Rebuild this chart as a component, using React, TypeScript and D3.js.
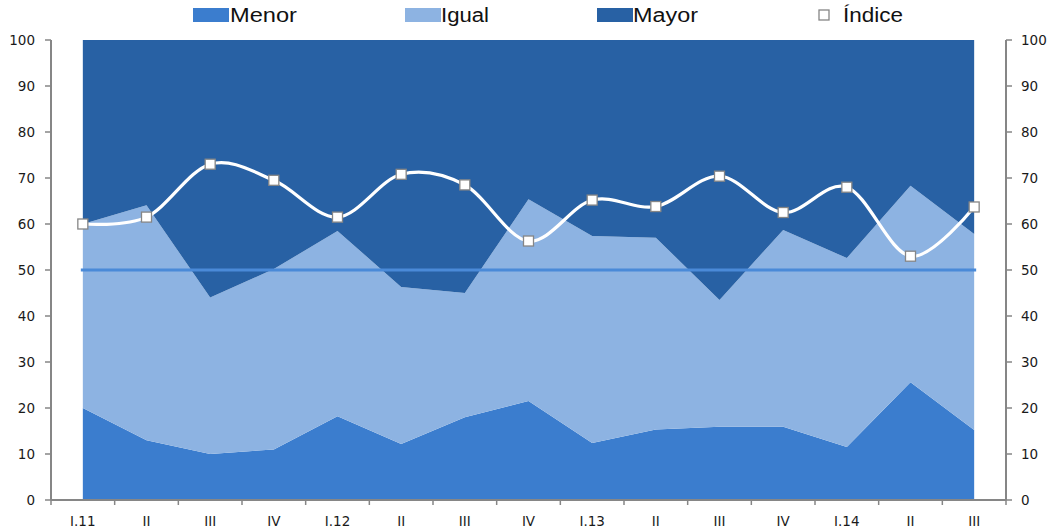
import React from "react";
import * as d3 from "d3";

const categories = ["I.11", "II", "III", "IV", "I.12", "II", "III", "IV", "I.13", "II", "III", "IV", "I.14", "II", "III"];
const menor = [20, 13, 10, 11, 18.2, 12.2, 18, 21.5, 12.4, 15.3, 15.9, 15.9, 11.5, 25.6, 15.2];
const igual = [40, 51.1, 34, 39.2, 40.3, 34.1, 27, 43.9, 45, 41.7, 27.6, 42.8, 41.1, 42.7, 42.6];
const mayor = menor.map((m, i) => 100 - m - igual[i]);
const indice = [60, 61.5, 73, 69.5, 61.5, 70.8, 68.5, 56.3, 65.2, 63.8, 70.4, 62.5, 68, 53, 63.7];
const yTicks = [0, 10, 20, 30, 40, 50, 60, 70, 80, 90, 100];
const refValue = 50;

const W = 1053, H = 528;
const left = 51, right = 1006, top = 40, bottom = 500;

const colors = { menor: "#3B7DCE", igual: "#8DB3E2", mayor: "#2861A4", ref: "#4A8AD8", axis: "#868686" };

export default function App() {
  const x = d3.scaleBand<number>().domain(categories.map((_, i) => i)).range([left, right]).padding(0);
  const cx = (i: number) => (x(i) as number) + x.bandwidth() / 2;
  const y = d3.scaleLinear().domain([0, 100]).range([bottom, top]);

  const rows = categories.map((_, i) => ({ i, menor: menor[i], igual: igual[i], mayor: mayor[i] }));
  const stack = d3.stack<any>().keys(["menor", "igual", "mayor"])(rows);
  const area = d3.area<any>().x((d: any) => cx(d.data.i)).y0((d: any) => y(d[0])).y1((d: any) => y(d[1]));
  const line = d3.line<number>().x((_, i) => cx(i)).y((d) => y(d)).curve(d3.curveCardinal.tension(0));

  const fill: Record<string, string> = { menor: colors.menor, igual: colors.igual, mayor: colors.mayor };
  const boundaries = d3.range(categories.length + 1).map((k) => left + k * x.bandwidth());
  const tickFont = "DejaVu Sans, Verdana, sans-serif";
  const legendFont = "Liberation Sans Narrow, Liberation Sans, Arial, sans-serif";

  const legend = [
    { key: "menor", label: "Menor", sx: 193, tx: 230, tl: 67 },
    { key: "igual", label: "Igual", sx: 405, tx: 441, tl: 48 },
    { key: "mayor", label: "Mayor", sx: 597, tx: 633, tl: 65 },
  ];

  return (
    <div style={{ position: "absolute", left: 0, top: 0, width: W, height: H, background: "#fff" }}>
      <svg width={W} height={H} style={{ display: "block" }}>
        <rect x={0} y={0} width={W} height={H} fill="#fff" />
        {stack.map((s) => (
          <path key={s.key} d={area(s as any) || ""} fill={fill[s.key]} />
        ))}
        <line x1={cx(0) - 2} x2={cx(categories.length - 1) + 2} y1={y(refValue)} y2={y(refValue)} stroke={colors.ref} strokeWidth={3} />
        <path d={line(indice) || ""} fill="none" stroke="#fff" strokeWidth={3.2} />
        {indice.map((v, i) => (
          <rect key={i} x={cx(i) - 5} y={y(v) - 5} width={10} height={10} fill="#fff" stroke={colors.axis} strokeWidth={1.3} />
        ))}
        {/* left axis */}
        <line x1={left} x2={left} y1={top} y2={bottom} stroke={colors.axis} strokeWidth={2} />
        {yTicks.map((t) => (
          <g key={"l" + t}>
            <line x1={left - 6} x2={left} y1={y(t)} y2={y(t)} stroke={colors.axis} strokeWidth={1.5} />
            <text x={35} y={y(t)} dy="0.35em" textAnchor="end" fontFamily={tickFont} fontSize={13.5} fill="#1a1a1a">{t}</text>
          </g>
        ))}
        {/* right axis */}
        <line x1={right} x2={right} y1={top} y2={bottom} stroke={colors.axis} strokeWidth={2} />
        {yTicks.map((t) => (
          <g key={"r" + t}>
            <line x1={right} x2={right + 6} y1={y(t)} y2={y(t)} stroke={colors.axis} strokeWidth={1.5} />
            <text x={1021} y={y(t)} dy="0.35em" textAnchor="start" fontFamily={tickFont} fontSize={13.5} fill="#1a1a1a">{t}</text>
          </g>
        ))}
        {/* bottom axis */}
        <line x1={left} x2={right} y1={bottom} y2={bottom} stroke={colors.axis} strokeWidth={2} />
        {boundaries.map((b, k) => (
          <line key={"b" + k} x1={b} x2={b} y1={bottom} y2={bottom + 5} stroke={colors.axis} strokeWidth={1.5} />
        ))}
        {categories.map((c, i) => (
          <text key={"c" + i} x={cx(i)} y={526} textAnchor="middle" fontFamily={tickFont} fontSize={13.5} fill="#1a1a1a">{c}</text>
        ))}
        {/* legend */}
        {legend.map((l) => (
          <g key={l.key}>
            <rect x={l.sx} y={8} width={36} height={14} fill={fill[l.key]} />
            <text x={l.tx} y={22} fontFamily={legendFont} fontSize={20} textLength={l.tl} lengthAdjust="spacingAndGlyphs" fill="#111">{l.label}</text>
          </g>
        ))}
        <rect x={819} y={10} width={10} height={10} fill="#fff" stroke={colors.axis} strokeWidth={1.3} />
        <text x={843} y={22} fontFamily={legendFont} fontSize={20} textLength={60} lengthAdjust="spacingAndGlyphs" fill="#111">Índice</text>
      </svg>
    </div>
  );
}
